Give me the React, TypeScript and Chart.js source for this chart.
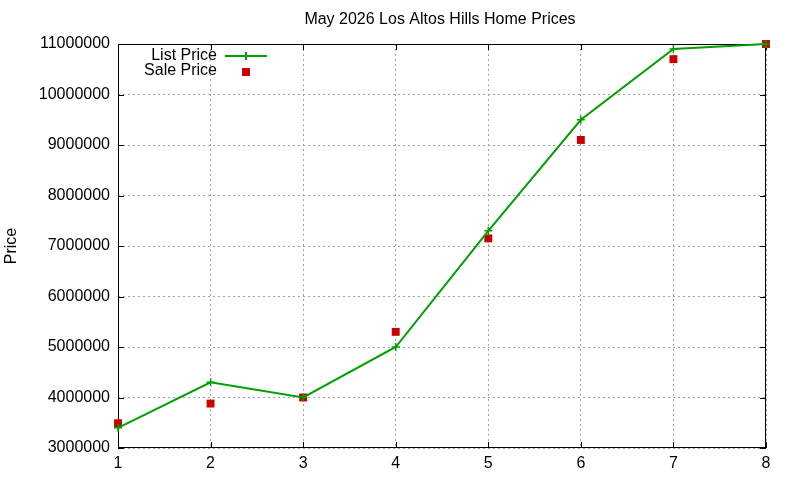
import React, { useEffect, useRef } from 'react';
import { Chart, registerables } from 'chart.js';

Chart.register(...registerables);

const months = [1, 2, 3, 4, 5, 6, 7, 8];
const listPrices = [3400000, 4300000, 4000000, 5000000, 7300000, 9500000, 10900000, 11000000];
const salePrices = [3490000, 3880000, 4000000, 5300000, 7150000, 9100000, 10700000, 11000000];
const chartTitle = 'May 2026 Los Altos Hills Home Prices';

const FONT = 'Liberation Sans, Arial, sans-serif';
const GREEN = '#00a000';
const RED = '#cc0000';

// gnuplot-style frame with inward tics, the title and the inset key
const gnuplotFrame = {
    id: 'gnuplotFrame',
    beforeDatasetsDraw(chart: any) {
        const { ctx, chartArea: a, scales } = chart;
        ctx.save();
        ctx.strokeStyle = '#000';
        ctx.lineWidth = 1;
        ctx.setLineDash([]);
        ctx.strokeRect(a.left + 0.5, a.top + 0.5, a.right - a.left - 1, a.bottom - a.top - 1);
        const len = 6;
        ctx.beginPath();
        scales.x.ticks.forEach((t: any) => {
            const px = Math.round(scales.x.getPixelForValue(t.value)) + 0.5;
            ctx.moveTo(px, a.bottom); ctx.lineTo(px, a.bottom - len);
            ctx.moveTo(px, a.top); ctx.lineTo(px, a.top + len);
        });
        scales.y.ticks.forEach((t: any) => {
            const py = Math.round(scales.y.getPixelForValue(t.value)) + 0.5;
            ctx.moveTo(a.left, py); ctx.lineTo(a.left + len, py);
            ctx.moveTo(a.right, py); ctx.lineTo(a.right - len, py);
        });
        ctx.stroke();

        ctx.font = `16px ${FONT}`;
        ctx.fillStyle = '#000';
        ctx.textAlign = 'center';
        ctx.textBaseline = 'middle';
        ctx.fillText(chartTitle, 440, 20);
        ctx.restore();
    },
    afterDatasetsDraw(chart: any) {
        const { ctx } = chart;
        ctx.save();
        ctx.font = `16px ${FONT}`;
        ctx.fillStyle = '#000';
        ctx.textAlign = 'right';
        ctx.textBaseline = 'middle';
        ctx.fillText('List Price', 217, 56);
        ctx.fillText('Sale Price', 217, 71);
        ctx.strokeStyle = GREEN;
        ctx.lineWidth = 2;
        ctx.beginPath();
        ctx.moveTo(225, 56); ctx.lineTo(267, 56);
        ctx.moveTo(246, 52); ctx.lineTo(246, 60);
        ctx.stroke();
        ctx.fillStyle = RED;
        ctx.fillRect(242, 68, 8, 8);
        ctx.restore();
    }
};

const App: React.FC = () => {
    const chartRef = useRef<HTMLCanvasElement>(null);
    const chartInstanceRef = useRef<Chart | null>(null);

    useEffect(() => {
        if (!chartRef.current) return;
        const ctx = chartRef.current.getContext('2d');
        if (!ctx) return;

        chartInstanceRef.current = new Chart(ctx, {
            type: 'line',
            data: {
                datasets: [
                    {
                        label: 'List Price',
                        data: months.map((m, i) => ({ x: m, y: listPrices[i] })),
                        borderColor: GREEN,
                        backgroundColor: GREEN,
                        borderWidth: 2,
                        pointStyle: 'cross',
                        pointRadius: 4,
                        pointBorderWidth: 1.5,
                        tension: 0,
                        clip: 10
                    },
                    {
                        label: 'Sale Price',
                        data: months.map((m, i) => ({ x: m, y: salePrices[i] })),
                        showLine: false,
                        borderColor: RED,
                        backgroundColor: RED,
                        pointStyle: 'rect',
                        pointRadius: 5.6,
                        pointBorderWidth: 0,
                        clip: 10
                    }
                ]
            },
            options: {
                animation: false,
                responsive: true,
                maintainAspectRatio: false,
                layout: { padding: { left: 0, right: 34, top: 44, bottom: 0 } },
                scales: {
                    x: {
                        type: 'linear',
                        min: 1,
                        max: 8,
                        ticks: { stepSize: 1, color: '#000', padding: 6, font: { family: FONT, size: 16 } },
                        grid: { color: '#a0a0a0', drawTicks: false, lineWidth: 1 },
                        border: { display: false, dash: [2, 3] },
                        afterFit: (s: any) => { s.height = 32; s.paddingLeft = 0; s.paddingRight = 0; }
                    },
                    y: {
                        min: 3000000,
                        max: 11000000,
                        ticks: {
                            stepSize: 1000000,
                            color: '#000',
                            padding: 8,
                            font: { family: FONT, size: 16 },
                            callback: (v: any) => String(v)
                        },
                        grid: { color: '#a0a0a0', drawTicks: false, lineWidth: 1 },
                        border: { display: false, dash: [2, 3] },
                        title: { display: true, text: 'Price', color: '#000', padding: { top: 2, bottom: 0 }, font: { family: FONT, size: 16 } },
                        afterFit: (s: any) => { s.width = 118; s.paddingTop = 0; s.paddingBottom = 0; }
                    }
                },
                plugins: {
                    legend: { display: false },
                    tooltip: { enabled: false },
                    title: { display: false }
                }
            },
            plugins: [gnuplotFrame]
        } as any);

        return () => {
            if (chartInstanceRef.current) {
                chartInstanceRef.current.destroy();
                chartInstanceRef.current = null;
            }
        };
    }, []);

    return (
        <div style={{ position: 'absolute', left: 0, top: 0, width: 800, height: 480, background: '#fff' }}>
            <canvas ref={chartRef}></canvas>
        </div>
    );
};

export default App;
